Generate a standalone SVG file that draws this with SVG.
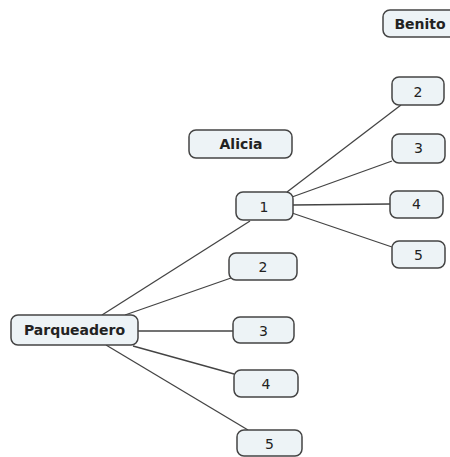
<svg xmlns="http://www.w3.org/2000/svg" width="450" height="457" viewBox="0 0 450 457">
<style>
.n{fill:#edf3f6;stroke:#444;stroke-width:1.5}
.t{font-family:"DejaVu Sans",Verdana,sans-serif;font-size:14px;fill:#222;text-anchor:middle}
.b{font-weight:bold}
.c{stroke:#444;stroke-width:1.3;fill:none}
</style>
<rect width="450" height="457" fill="#fff"/>
<g id="connectors">
<line class="c" x1="102" y1="315" x2="250" y2="221"/>
<line class="c" x1="125" y1="315" x2="231" y2="278"/>
<line class="c" x1="138" y1="331" x2="233" y2="331"/>
<line class="c" x1="133" y1="346" x2="234" y2="374"/>
<line class="c" x1="106" y1="345" x2="248" y2="430"/>
<line class="c" x1="287" y1="192" x2="401" y2="105"/>
<line class="c" x1="292" y1="197" x2="392" y2="161"/>
<line class="c" x1="293" y1="205" x2="390" y2="204"/>
<line class="c" x1="292" y1="213" x2="392" y2="247"/>
</g>
<g id="parqueadero"><rect class="n" x="11" y="315" width="127" height="30" rx="7"/><text class="t b" x="74.5" y="335">Parqueadero</text></g>
<g id="benito"><rect class="n" x="383" y="10" width="80" height="27" rx="7"/><text class="t b" x="420" y="28.5">Benito</text></g>
<g id="alicia"><rect class="n" x="189" y="130" width="103" height="28" rx="7"/><text class="t b" x="241" y="149">Alicia</text></g>
<g id="n1"><rect class="n" x="236" y="192" width="57" height="28" rx="7"/><text class="t" x="264" y="211.5">1</text></g>
<g id="r2"><rect class="n" x="392" y="77" width="52" height="28" rx="7"/><text class="t" x="418" y="96.5">2</text></g>
<g id="r3"><rect class="n" x="392" y="134" width="53" height="29" rx="7"/><text class="t" x="418.5" y="153">3</text></g>
<g id="r4"><rect class="n" x="390" y="191" width="53" height="27" rx="7"/><text class="t" x="416.5" y="209">4</text></g>
<g id="r5"><rect class="n" x="392" y="241" width="53" height="27" rx="7"/><text class="t" x="418.5" y="259.5">5</text></g>
<g id="l2"><rect class="n" x="229" y="253" width="68" height="27" rx="7"/><text class="t" x="263" y="272">2</text></g>
<g id="l3"><rect class="n" x="233" y="317" width="61" height="26" rx="7"/><text class="t" x="263.5" y="335.5">3</text></g>
<g id="l4"><rect class="n" x="234" y="370" width="64" height="27" rx="7"/><text class="t" x="266" y="388.5">4</text></g>
<g id="l5"><rect class="n" x="237" y="430" width="65" height="26" rx="7"/><text class="t" x="269.5" y="449">5</text></g>
</svg>
